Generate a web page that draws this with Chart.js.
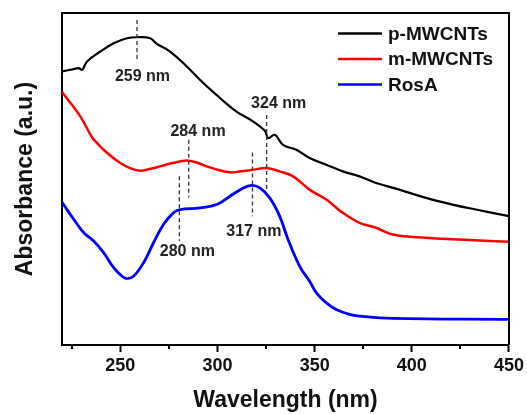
<!DOCTYPE html>
<html>
<head>
<meta charset="utf-8">
<script src="https://cdn.jsdelivr.net/npm/chart.js@4"></script>
<style>
  html, body { margin: 0; padding: 0; background: #fff; }
  #wrap { width: 527px; height: 414px; }
</style>
</head>
<body>
<div id="wrap"><canvas id="chart" width="527" height="414"></canvas></div>
<script>
// series (wavelength in nm, absorbance in arbitrary units)
const pWave = [220, 226.1, 228.6, 230.4, 232.9, 239.7, 246.6, 253.4, 258.6, 265.4, 268.8, 275.6, 284.2, 292.7, 301.3, 309.8, 318.4, 324.4, 326.1, 329.5, 333.7, 340.6, 347.4, 356, 364.5, 373.1, 381.6, 393.6, 407.3, 420.9, 432.9, 450];
const pAbs = [82.4, 83.1, 83.4, 82.9, 85.4, 88.4, 90.9, 92.4, 92.7, 92.4, 90.7, 88.4, 83.9, 78.9, 74.4, 70.3, 67.3, 64.5, 62.3, 63.3, 60.3, 58.8, 56.3, 54.3, 52.3, 50.8, 48.8, 46.8, 44.3, 42.3, 40.8, 38.8];

const mWave = [220, 229.5, 235.5, 238.1, 241.4, 250, 255, 260.3, 265, 270.5, 277, 284.2, 290, 294.5, 300, 306.4, 312, 318.4, 325.2, 332, 338.9, 347.4, 356, 364.5, 373.1, 381.6, 390.2, 407.3, 430, 450];
const mAbs = [76.2, 68.8, 62.5, 60.8, 58.8, 54.8, 53.3, 52.5, 53, 53.8, 54.8, 55.6, 54.8, 53.8, 52.8, 52, 52.3, 52.8, 53.3, 52.3, 50.8, 46.8, 43.8, 39.8, 36.8, 35.3, 33.3, 32.3, 31.6, 31.1];

const rWave = [220, 226.1, 231.2, 236.3, 241.4, 246.6, 250.9, 253.4, 256.8, 262, 267.1, 272.2, 277.3, 280.8, 291, 299.6, 306.4, 312.4, 317.5, 321.8, 326.9, 332, 336.3, 342.3, 347.4, 350.9, 356, 361.1, 368, 373.1, 390.2, 450];
const rAbs = [43, 37.8, 33.8, 31.3, 27.8, 23.3, 20.7, 20, 20.7, 24.8, 30.8, 36.3, 39.8, 40.8, 41.3, 42.3, 44.8, 47, 48.1, 47.3, 44.3, 38.8, 31.8, 23.7, 19.2, 15.7, 12.7, 10.7, 9.2, 8.7, 8, 7.7];

const seriesNames = ['p-MWCNTs', 'm-MWCNTs', 'RosA'];
const seriesColors = ['#000000', '#ff0000', '#0000ff'];

const xTicks = [250, 300, 350, 400, 450];
const minorTicks = [225, 275, 325, 375, 425];

// peak markers
const peakNames = ['259 nm', '324 nm', '284 nm', '280 nm', '317 nm'];
const peakLineX = [258.6, 325.3, 285.2, 280.4, 318.0];
const peakLineTop = [97.9, 69.3, 61.8, 50.8, 58.0];
const peakLineBottom = [85.9, 46.8, 44.4, 31.3, 38.8];
const peakLabelX = [261.4, 331.5, 290, 284.5, 318.7];
const peakLabelY = [80.9, 72.6, 64.3, 28.1, 34.1];

const FONT = "'Liberation Sans', Arial, sans-serif";

const toPts = (w, a) => w.map((x, i) => ({ x: x, y: a[i] }));

const extras = {
  id: 'extras',
  afterDraw(chart) {
    const { ctx, chartArea: ca, scales } = chart;
    const xs = scales.x, ys = scales.y;
    ctx.save();
    // frame top and right
    ctx.strokeStyle = '#000';
    ctx.lineWidth = 2;
    ctx.beginPath();
    ctx.moveTo(ca.left, ca.top);
    ctx.lineTo(ca.right, ca.top);
    ctx.lineTo(ca.right, ca.bottom);
    ctx.stroke();
    // minor ticks
    minorTicks.forEach(v => {
      const px = Math.round(xs.getPixelForValue(v));
      ctx.beginPath();
      ctx.moveTo(px, ca.bottom);
      ctx.lineTo(px, ca.bottom + 4);
      ctx.stroke();
    });
    // peak markers
    ctx.strokeStyle = '#333';
    ctx.lineWidth = 1.3;
    ctx.setLineDash([4, 3]);
    peakNames.forEach((n, i) => {
      const px = xs.getPixelForValue(peakLineX[i]);
      ctx.beginPath();
      ctx.moveTo(px, ys.getPixelForValue(peakLineTop[i]));
      ctx.lineTo(px, ys.getPixelForValue(peakLineBottom[i]));
      ctx.stroke();
    });
    ctx.setLineDash([]);
    ctx.fillStyle = '#222';
    ctx.font = 'bold 16px ' + FONT;
    ctx.textAlign = 'center';
    ctx.textBaseline = 'middle';
    peakNames.forEach((n, i) => {
      ctx.fillText(n, xs.getPixelForValue(peakLabelX[i]), ys.getPixelForValue(peakLabelY[i]));
    });
    // legend
    ctx.font = 'bold 19px ' + FONT;
    ctx.textAlign = 'left';
    chart.data.datasets.forEach((ds, i) => {
      const y = 33.5 + i * 25.5;
      ctx.strokeStyle = ds.borderColor;
      ctx.lineWidth = 2.5;
      ctx.beginPath();
      ctx.moveTo(338, y);
      ctx.lineTo(382, y);
      ctx.stroke();
      ctx.fillStyle = '#111';
      ctx.fillText(ds.label, 388, y + 1);
    });
    ctx.restore();
  }
};

new Chart(document.getElementById('chart'), {
  type: 'line',
  data: {
    datasets: [
      { label: seriesNames[0], data: toPts(pWave, pAbs), borderColor: seriesColors[0], borderWidth: 2.2 },
      { label: seriesNames[1], data: toPts(mWave, mAbs), borderColor: seriesColors[1], borderWidth: 2.5 },
      { label: seriesNames[2], data: toPts(rWave, rAbs), borderColor: seriesColors[2], borderWidth: 2.8 },
    ],
  },
  options: {
    responsive: false,
    animation: false,
    devicePixelRatio: 1,
    layout: { padding: { top: 13, right: 17, left: 0, bottom: 0 } },
    elements: {
      point: { radius: 0 },
      line: { tension: 0.4 },
    },
    plugins: {
      legend: { display: false },
      tooltip: { enabled: false },
    },
    scales: {
      x: {
        type: 'linear',
        min: 220,
        max: 450,
        afterBuildTicks: (s) => { s.ticks = xTicks.map(v => ({ value: v })); },
        afterFit: (s) => { s.height = 69; },
        border: { display: true, color: '#000', width: 2 },
        grid: { display: true, drawOnChartArea: false, drawTicks: true, tickLength: 7, tickWidth: 2, tickColor: '#000' },
        ticks: { color: '#111', padding: 3, font: { family: FONT, size: 18, weight: 'bold' } },
        title: {
          display: true,
          text: 'Wavelength (nm)',
          color: '#111',
          padding: { top: 0, bottom: 0 },
          font: { family: FONT, size: 23, weight: 'bold' },
        },
      },
      y: {
        type: 'linear',
        min: 0,
        max: 100,
        afterFit: (s) => { s.width = 62; },
        border: { display: true, color: '#000', width: 2 },
        grid: { display: false },
        ticks: { display: false },
        title: {
          display: true,
          text: 'Absorbance (a.u.)',
          color: '#111',
          padding: { top: 12, bottom: 0 },
          font: { family: FONT, size: 23, weight: 'bold' },
        },
      },
    },
  },
  plugins: [extras],
});
</script>
</body>
</html>
